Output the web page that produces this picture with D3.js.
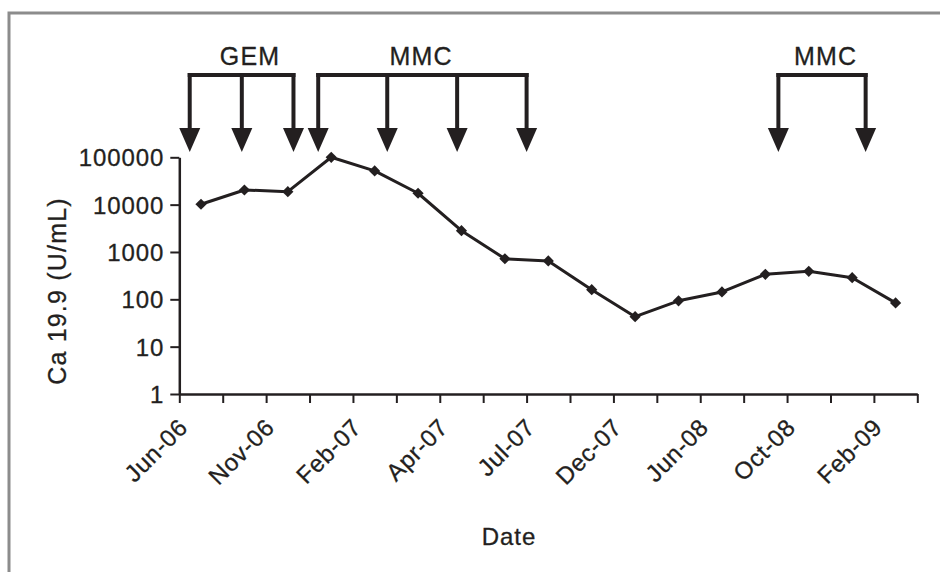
<!DOCTYPE html>
<html>
<head>
<meta charset="utf-8">
<script src="https://cdn.jsdelivr.net/npm/d3@7"></script>
<style>
  body { margin: 0; background: #fff; }
  svg text { font-family: "Liberation Sans", Arial, sans-serif; fill: #231f20; stroke: #231f20; stroke-width: 0.3px; }
</style>
</head>
<body>
<svg id="chart" width="940" height="572"></svg>
<script>
// dates of the CA 19-9 measurements (only every second one is labelled)
var dates = ["Jun-06", "Aug-06", "Nov-06", "Dec-06", "Feb-07", "Mar-07", "Apr-07", "May-07", "Jul-07",
             "Sep-07", "Dec-07", "Mar-08", "Jun-08", "Aug-08", "Oct-08", "Dec-08", "Feb-09"]
var ca199 = [10200, 20400, 18800, 100000, 51500, 17400, 2820, 720, 646, 160, 43, 93, 143, 337, 391, 286, 84]
var yTicks = [1, 10, 100, 1000, 10000, 100000]

// treatment arrows, position in category units along the axis
var courses = [
	{name: "GEM", label: 1.63, arrows: [0.24, 1.44, 2.63]},
	{name: "MMC", label: 5.57, arrows: [3.20, 4.79, 6.40, 8.00]},
	{name: "MMC", label: 14.89, arrows: [13.80, 15.81]}
]

function init_chart () {
	var svg = d3.select("#chart"),
	    left = 179.3, right = 917.3, top = 157.3, bottom = 394,
	    ink = "#231f20"

	var x_pos = d3.scaleLinear().domain([0, dates.length]).range([left, right]),
	    y_scale = d3.scaleLog().domain([1, 100000]).range([bottom, top])

	// frame
	svg.append("rect")
	   .attr("x", 9).attr("y", 13).attr("width", 1000).attr("height", 1000)
	   .style("fill", "none").style("stroke", "#8c8c8c").style("stroke-width", 3)

	// y axis
	var yAxis = svg.append("g")
	   .attr("transform", "translate(" + left + ",0)")
	   .call(d3.axisLeft(y_scale).tickValues(yTicks).tickFormat(d3.format("d")).tickSize(9).tickSizeOuter(0).tickPadding(6))
	yAxis.select(".domain").style("stroke", ink).style("stroke-width", 2.5)
	yAxis.selectAll(".tick line").style("stroke", ink).style("stroke-width", 2)
	yAxis.selectAll(".tick text").style("font-size", "24px").style("letter-spacing", "0.9px")
	     .attr("font-family", null).attr("dy", "0.36em")

	// x axis: ticks at category boundaries
	var xAxis = svg.append("g")
	   .attr("transform", "translate(0," + bottom + ")")
	   .call(d3.axisBottom(x_pos).tickValues(d3.range(dates.length + 1)).tickFormat("").tickSize(9).tickSizeOuter(0))
	xAxis.select(".domain").style("stroke", ink).style("stroke-width", 2.5)
	xAxis.selectAll(".tick line").style("stroke", ink).style("stroke-width", 2)

	svg.selectAll(".x-label")
	   .data(dates.filter((d, i) => i % 2 == 0))
	   .enter()
	   .append("text")
	   .attr("class", "x-label")
	   .attr("text-anchor", "end")
	   .attr("transform", (d, i) => "translate(" + (x_pos(i * 2 + 0.5) - 12) + "," + (bottom + 35) + ") rotate(-45)")
	   .style("font-size", "24px")
	   .style("letter-spacing", "0.6px")
	   .text(d => d)

	// axis titles
	svg.append("text")
	   .attr("x", 509).attr("y", 545)
	   .attr("text-anchor", "middle")
	   .style("font-size", "24px").style("letter-spacing", "1px")
	   .text("Date")

	svg.append("text")
	   .attr("transform", "translate(66,291) rotate(-90)")
	   .attr("text-anchor", "middle")
	   .style("font-size", "25px").style("letter-spacing", "1.2px")
	   .text("Ca 19.9 (U/mL)")

	// series
	var line = d3.line()
	             .x((d, i) => x_pos(i + 0.5))
	             .y(d => y_scale(d))
	svg.append("path")
	   .datum(ca199)
	   .attr("d", line)
	   .style("fill", "none")
	   .style("stroke", ink)
	   .style("stroke-width", 3)
	   .style("stroke-linejoin", "round")

	svg.selectAll(".dot")
	   .data(ca199)
	   .enter()
	   .append("path")
	   .attr("class", "dot")
	   .attr("d", d3.symbol(d3.symbolDiamond2, 80))
	   .attr("transform", (d, i) => "translate(" + x_pos(i + 0.5) + "," + y_scale(d) + ")")
	   .style("fill", ink)

	// treatment brackets with arrows
	var barY = 75, headTop = 128, headTip = 152, headHalf = 10.5
	courses.forEach(c => {
		var g = svg.append("g")
		var x0 = x_pos(d3.min(c.arrows)), x1 = x_pos(d3.max(c.arrows))
		g.append("line")
		 .attr("x1", x0 - 2).attr("x2", x1 + 2).attr("y1", barY).attr("y2", barY)
		 .style("stroke", ink).style("stroke-width", 4)
		g.selectAll(".shaft")
		 .data(c.arrows)
		 .enter()
		 .append("line")
		 .attr("x1", d => x_pos(d)).attr("x2", d => x_pos(d))
		 .attr("y1", barY - 2).attr("y2", headTop + 1)
		 .style("stroke", ink).style("stroke-width", 4)
		g.selectAll(".head")
		 .data(c.arrows)
		 .enter()
		 .append("path")
		 .attr("d", d => "M" + (x_pos(d) - headHalf) + "," + headTop + "L" + (x_pos(d) + headHalf) + "," + headTop + "L" + x_pos(d) + "," + headTip + "Z")
		 .style("fill", ink)
		g.append("text")
		 .attr("x", x_pos(c.label)).attr("y", 65)
		 .attr("text-anchor", "middle")
		 .style("font-size", "25px").style("letter-spacing", "1.2px")
		 .text(c.name)
	})
}

init_chart()
</script>
</body>
</html>
